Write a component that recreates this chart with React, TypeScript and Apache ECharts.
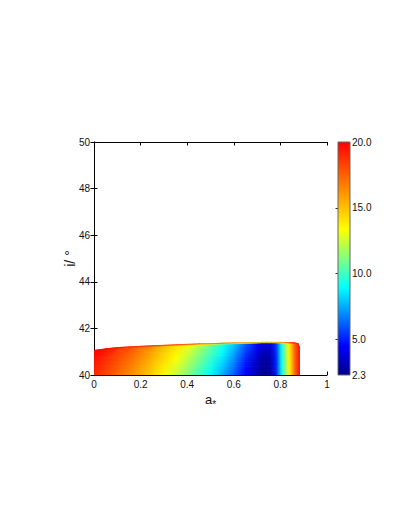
import React, { useEffect, useRef } from "react";
import * as echarts from "echarts";

// ---- data ----
// spin parameter columns (a*)
const aCols = [0, 0.05, 0.1, 0.15, 0.2, 0.25, 0.3, 0.35, 0.4, 0.45, 0.5, 0.55, 0.6, 0.65, 0.7, 0.72, 0.74, 0.76, 0.78, 0.79, 0.8, 0.81, 0.82, 0.83, 0.84, 0.85, 0.86, 0.875, 0.884];
// upper edge of the allowed region (inclination, degrees)
const topI = [41.07, 41.14, 41.19, 41.22, 41.25, 41.27, 41.29, 41.31, 41.33, 41.35, 41.36, 41.38, 41.39, 41.4, 41.41, 41.42, 41.42, 41.42, 41.42, 41.42, 41.42, 41.41, 41.41, 41.41, 41.4, 41.4, 41.39, 41.36, 41.2];
// colour values at i = 40
const valBottom = [19.0, 18.2, 17.3, 16.4, 15.5, 14.5, 13.4, 12.3, 11.2, 10.0, 8.8, 7.5, 6.0, 4.3, 2.9, 2.4, 2.3, 3.0, 5.0, 6.5, 8.3, 9.8, 11.2, 12.6, 14.0, 15.5, 17.2, 19.0, 19.5];
// colour values at i = 40.7
const valMid = [19.6, 18.9, 18.0, 17.2, 16.3, 15.3, 14.3, 13.3, 12.2, 11.0, 9.8, 8.5, 7.0, 5.1, 3.5, 3.0, 2.7, 3.2, 5.1, 6.6, 8.4, 9.9, 11.3, 12.7, 14.1, 15.6, 17.3, 19.0, 19.5];
// colour values just below the upper edge
const valNearTop = [20.0, 19.5, 18.7, 17.9, 17.0, 16.0, 15.0, 14.1, 13.1, 12.0, 10.8, 9.5, 8.0, 6.1, 4.5, 4.0, 3.8, 4.0, 5.5, 6.9, 8.6, 10.1, 11.5, 12.9, 14.3, 15.8, 17.4, 19.0, 19.5];
// colour values on the upper edge (thin red rim)
const valEdge = [20.0, 19.8, 19.6, 19.5, 19.5, 19.5, 19.5, 19.5, 19.5, 19.5, 19.5, 19.5, 19.5, 19.5, 19.5, 19.5, 19.5, 19.5, 19.5, 19.5, 19.5, 19.5, 19.5, 19.5, 19.5, 19.5, 19.5, 19.5, 19.5];
const midI = 40.7;
const baseI = 40;
const edgeBand = 0.07;

const xTicks = [0, 0.2, 0.4, 0.6, 0.8, 1];
const yTicks = [40, 42, 44, 46, 48, 50];
const cbTickLabels = [2.3, 5, 10, 15, 20];
const cbInnerTicks = [5, 10, 15];
const cbMin = 2.3;
const cbMax = 20;
const jet = ["#000088", "#0000ff", "#0080ff", "#00ffff", "#80ff80", "#ffff00", "#ffaa00", "#ff5500", "#ff0000"];

const FONT = "'Liberation Sans', Arial, Helvetica, sans-serif";
const TXT = "#111";

function colorOf(v: number): string {
  let t = (v - cbMin) / (cbMax - cbMin);
  t = Math.max(0, Math.min(1, t));
  return echarts.color.lerp(t, jet) as string;
}

export default function App() {
  const ref = useRef<HTMLDivElement>(null);
  useEffect(() => {
    if (!ref.current) return;
    const chart = echarts.init(ref.current, undefined, { renderer: "svg" });
    const nCols = aCols.length;

    const renderRegion = (params: any, api: any) => {
      const j = api.value(0) as number;
      const a0 = aCols[j];
      const a1 = aCols[j + 1];
      const levL = [
        [baseI, valBottom[j]],
        [midI, valMid[j]],
        [topI[j] - edgeBand, valNearTop[j]],
        [topI[j], valEdge[j]],
      ];
      const levR = [
        [baseI, valBottom[j + 1]],
        [midI, valMid[j + 1]],
        [topI[j + 1] - edgeBand, valNearTop[j + 1]],
        [topI[j + 1], valEdge[j + 1]],
      ];
      const children: any[] = [];
      const isLastCol = j === nCols - 2;
      for (let s = 0; s < 3; s++) {
        const K = s === 2 ? 3 : 10;
        for (let k = 0; k < K; k++) {
          const t0 = k / K;
          const t1 = (k + 1) / K;
          const tm = (t0 + t1) / 2;
          const iL0 = levL[s][0] + (levL[s + 1][0] - levL[s][0]) * t0;
          const iL1 = levL[s][0] + (levL[s + 1][0] - levL[s][0]) * t1;
          const iR0 = levR[s][0] + (levR[s + 1][0] - levR[s][0]) * t0;
          const iR1 = levR[s][0] + (levR[s + 1][0] - levR[s][0]) * t1;
          const vL = levL[s][1] + (levL[s + 1][1] - levL[s][1]) * tm;
          const vR = levR[s][1] + (levR[s + 1][1] - levR[s][1]) * tm;
          const p1 = api.coord([a0, iL0]);
          const p2 = api.coord([a1, iR0]);
          const p3 = api.coord([a1, iR1]);
          const p4 = api.coord([a0, iL1]);
          const dx = isLastCol ? 0 : 0.7;
          const topMost = s === 2 && k === K - 1;
          const dy = topMost ? 0 : 0.7;
          children.push({
            type: "polygon",
            shape: {
              points: [
                [p1[0], p1[1]],
                [p2[0] + dx, p2[1]],
                [p3[0] + dx, p3[1] - dy],
                [p4[0], p4[1] - dy],
              ],
            },
            style: {
              fill: {
                type: "linear",
                x: 0,
                y: 0,
                x2: 1,
                y2: 0,
                colorStops: [
                  { offset: 0, color: colorOf(vL) },
                  { offset: 1, color: colorOf(vR) },
                ],
              },
            },
          });
        }
      }
      return { type: "group", children };
    };

    const renderBar = (params: any, api: any) => {
      const pBot = api.coord([0, cbMin]);
      const pTop = api.coord([1, cbMax]);
      return {
        type: "rect",
        shape: { x: pBot[0], y: pTop[1], width: pTop[0] - pBot[0], height: pBot[1] - pTop[1] },
        style: {
          fill: {
            type: "linear",
            x: 0,
            y: 1,
            x2: 0,
            y2: 0,
            colorStops: jet.map((c, n) => ({ offset: n / (jet.length - 1), color: c })),
          },
          stroke: "#666",
          lineWidth: 1,
        },
      };
    };

    const axisLineStyle = { color: "#000", width: 1 };
    const labelStyle = { fontFamily: FONT, fontSize: 10, color: TXT };

    chart.setOption({
      animation: false,
      backgroundColor: "#fff",
      grid: [
        { left: 86, top: 134, width: 233, height: 233 },
        { left: 330, top: 134, width: 12, height: 233 },
      ],
      xAxis: [
        {
          gridIndex: 0,
          type: "value",
          min: 0,
          max: 1,
          interval: 0.2,
          position: "bottom",
          axisLine: { lineStyle: axisLineStyle },
          axisTick: { inside: true, length: 3.5, lineStyle: axisLineStyle },
          axisLabel: { ...labelStyle, margin: 4, formatter: (v: number) => String(+v.toFixed(1)) },
          splitLine: { show: false },
          name: "{a|a}{s|*}",
          nameLocation: "middle",
          nameGap: 15,
          nameMoveOverlap: false,
          nameTextStyle: {
            rich: {
              a: { fontFamily: FONT, fontSize: 13, color: TXT },
              s: { fontFamily: FONT, fontSize: 10, color: TXT, padding: [9, 0, 0, 0] },
            },
          },
        },
        {
          gridIndex: 0,
          type: "value",
          min: 0,
          max: 1,
          interval: 0.2,
          position: "top",
          axisLine: { lineStyle: axisLineStyle },
          axisTick: { inside: true, length: 3.5, lineStyle: axisLineStyle },
          axisLabel: { show: false },
          splitLine: { show: false },
        },
        {
          gridIndex: 1,
          type: "value",
          min: 0,
          max: 1,
          show: false,
        },
      ],
      yAxis: [
        {
          gridIndex: 0,
          type: "value",
          min: 40,
          max: 50,
          interval: 2,
          position: "left",
          axisLine: { lineStyle: axisLineStyle },
          axisTick: { inside: true, length: 3.5, lineStyle: axisLineStyle },
          axisLabel: { ...labelStyle, margin: 4 },
          splitLine: { show: false },
          name: "i/ °",
          nameLocation: "middle",
          nameRotate: 90,
          nameGap: 17,
          nameMoveOverlap: false,
          nameTextStyle: { fontFamily: FONT, fontSize: 14, color: TXT },
        },
        {
          gridIndex: 0,
          type: "value",
          min: 40,
          max: 50,
          interval: 2,
          position: "right",
          axisLine: { lineStyle: axisLineStyle },
          axisTick: { inside: true, length: 3.5, lineStyle: axisLineStyle },
          axisLabel: { show: false },
          splitLine: { show: false },
        },
        {
          gridIndex: 1,
          type: "value",
          min: cbMin,
          max: cbMax,
          position: "right",
          axisLine: { show: false },
          axisTick: { show: true, inside: true, length: 2.5, customValues: cbInnerTicks, lineStyle: { color: "#333" } },
          axisLabel: {
            ...labelStyle,
            margin: 2,
            customValues: cbTickLabels,
            formatter: (v: number) => v.toFixed(1),
          },
          splitLine: { show: false },
        },
      ],
      series: [
        {
          type: "custom",
          xAxisIndex: 0,
          yAxisIndex: 0,
          renderItem: renderRegion,
          data: aCols.slice(0, -1).map((_, j) => [j]),
          clip: true,
          silent: true,
        },
        {
          type: "custom",
          xAxisIndex: 2,
          yAxisIndex: 2,
          renderItem: renderBar,
          data: [[0]],
          silent: true,
        },
      ],
    });
    return () => chart.dispose();
  }, []);
  return <div ref={ref} style={{ width: 393, height: 513 }} />;
}
